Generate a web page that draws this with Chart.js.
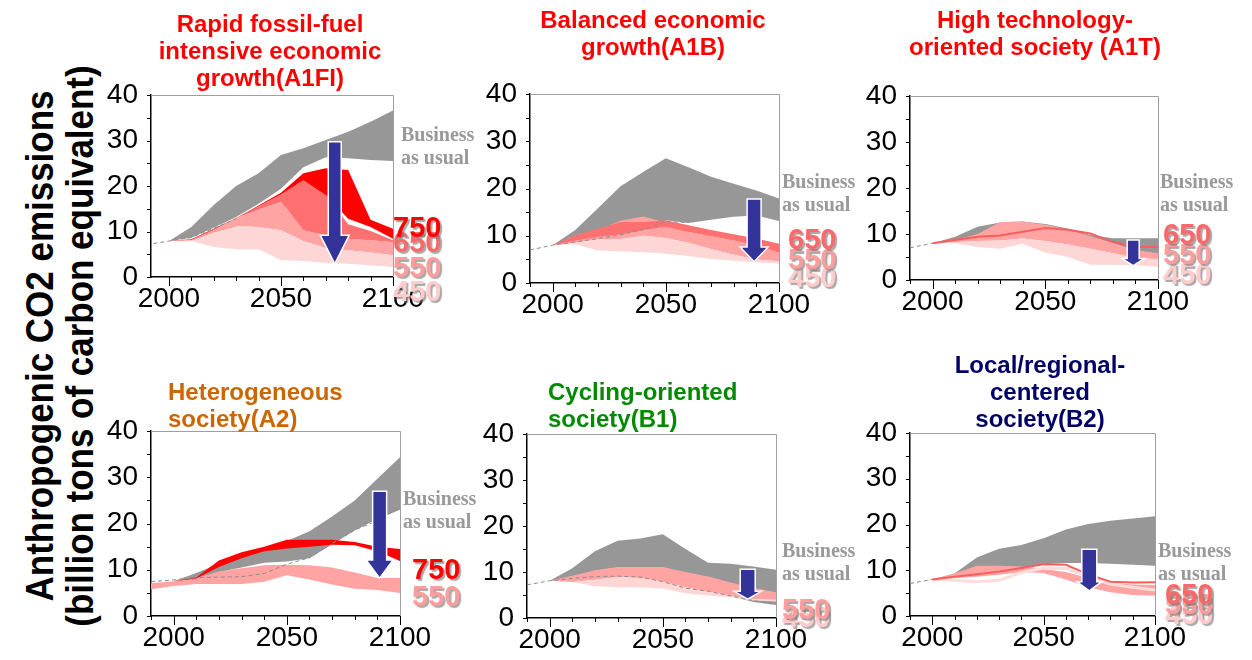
<!DOCTYPE html>
<html>
<head>
<meta charset="utf-8">
<script src="https://cdn.jsdelivr.net/npm/chart.js@4.4.0/dist/chart.umd.min.js"></script>
<style>
  body { margin: 0; background: #fff; }
  #wrap { position: relative; width: 1252px; height: 660px; overflow: hidden; font-family: Arial, "Liberation Sans", sans-serif; }
  canvas { position: absolute; }
  .t { position: absolute; font-weight: bold; font-size: 24px; line-height: 27px; white-space: nowrap; z-index: 2; }
  .c { text-align: center; transform: translateX(-50%); }
  .bau { position: absolute; font-family: "Liberation Serif", "Times New Roman", serif; font-weight: bold; font-size: 20px; line-height: 23px; color: #999; white-space: nowrap; }
  .num { position: absolute; font-weight: bold; font-size: 29px; line-height: 29px; text-shadow: 2px 2px 1px rgba(110,110,110,0.6); }
  #ytitle { position: absolute; left: -250px; top: 306px; width: 620px; height: 80px; text-align: center;
            font-weight: bold; font-size: 38px; line-height: 40px; transform: rotate(-90deg) scaleX(0.92); white-space: nowrap; }
</style>
</head>
<body>
<div id="wrap">
  <div id="ytitle">Anthropogenic CO2 emissions<br>(billion tons of carbon equivalent)</div>

  <div class="t c" style="left:270px; top:10px; color:#ff0000">Rapid fossil-fuel<br>intensive economic<br>growth(A1FI)</div>
  <div class="t c" style="left:653px; top:6px; color:#ff0000">Balanced economic<br>growth(A1B)</div>
  <div class="t c" style="left:1035px; top:6px; color:#ff0000">High technology-<br>oriented society (A1T)</div>
  <div class="t" style="left:168px; top:378px; color:#cc6600">Heterogeneous<br>society(A2)</div>
  <div class="t" style="left:548px; top:378px; color:#008a00">Cycling-oriented<br>society(B1)</div>
  <div class="t c" style="left:1040px; top:351px; color:#000066">Local/regional-<br>centered<br>society(B2)</div>
</div>
<script>
// years at ten-year steps
const YEARS = [1990, 2000, 2010, 2020, 2030, 2040, 2050, 2060, 2070, 2080, 2090, 2100];
const X_LABELS = [2000, 2050, 2100];
const Y_LABELS = [0, 10, 20, 30, 40];
const X_MINOR = [1990, 2000, 2010, 2020, 2030, 2040, 2050, 2060, 2070, 2080, 2090, 2100];
const Y_MINOR = [0, 5, 10, 15, 20, 25, 30, 35, 40];

// A1FI
const a1fiBauHi = [null, 7.9, 11.0, 15.8, 20.0, 22.8, 26.8, 28.3, 30.1, 31.9, 34.1, 36.6];
const a1fiBauLo = [null, 7.9, 8.6, 10.8, 13.2, 16.1, 19.4, 24.1, 26.3, 26.1, 25.7, 25.5];
const a1fi750Hi = [null, 7.9, 8.3, 10.6, 12.9, 15.7, 18.5, 22.8, 23.9, 23.5, 12.6, 10.6];
const a1fi750Lo = [null, 7.9, 8.1, 9.2, 11.0, 13.0, 15.0, 18.0, 18.0, 12.8, 11.0, 8.4];
const a1fi650Hi = [null, 7.9, 8.2, 10.6, 13.0, 15.6, 18.2, 21.3, 18.0, 11.6, 10.1, 8.1];
const a1fi550Hi = [null, 7.9, 8.2, 10.4, 13.1, 15.0, 16.7, 10.3, 9.2, 8.4, 8.1, 7.7];
const a1fi450Hi = [null, 7.9, 8.0, 9.9, 11.2, 11.0, 10.3, 7.9, 6.4, 5.9, 5.4, 4.8];
const a1fi450Lo = [null, 7.9, 7.9, 6.6, 6.1, 6.1, 3.7, 3.5, 3.1, 2.9, 2.6, 2.2];
const a1fiDash = [7.1, 7.9, 8.7, 10.7, 12.8];

// A1B
const a1bBauHi = [null, 8.0, 11.2, 15.8, 20.5, 23.5, 26.4, 24.5, 22.5, 21.0, 19.6, 17.9];
const a1bBauLo = [null, 8.0, 9.2, 9.8, 10.5, 11.5, 13.3, 12.7, 13.4, 14.0, 14.3, 13.1];
const a1b650Hi = [null, 8.0, 10.1, 11.5, 12.9, 12.9, 13.3, 12.2, 11.2, 10.3, 9.4, 8.3];
const a1b650Lo = [null, 8.0, 9.0, 9.8, 10.3, 11.2, 11.9, 10.8, 9.9, 9.0, 8.0, 6.4];
const a1b550Hi = [null, 8.0, 9.5, 11.2, 13.2, 14.1, 12.8, 10.8, 9.9, 9.0, 8.0, 6.4];
const a1b550Lo = [null, 8.0, 8.5, 9.2, 9.3, 10.0, 9.5, 8.5, 7.2, 6.0, 5.0, 4.6];
const a1b450Lo = [null, 8.0, 8.2, 6.9, 6.7, 6.5, 6.2, 5.7, 5.1, 4.7, 4.4, 4.2];
const a1bDash = [7.0, 8.0, 8.7, 9.4, 10.2, 11.3, 13.0, 12.8];

// A1T
const a1tBauHi = [null, 8.0, 9.4, 11.6, 12.5, 12.7, 12.2, 11.2, 9.8, 9.1, 9.1, 9.1];
const a1tBauLo = [null, 8.0, 8.3, 9.1, 9.8, 10.5, 11.2, 10.5, 9.4, 8.0, 6.2, 5.4];
const a1t650 = [null, 8.0, 8.7, 9.4, 9.7, 10.5, 11.3, 10.9, 10.1, 8.3, 7.2, 7.2];
const a1t550Hi = [null, 8.0, 8.7, 10.0, 12.6, 12.7, 12.0, 11.0, 9.5, 8.0, 6.5, 5.8];
const a1t550Lo = [null, 8.0, 8.2, 8.5, 8.6, 9.0, 8.5, 7.7, 6.8, 5.8, 4.8, 4.5];
const a1t450Lo = [null, 8.0, 8.0, 7.2, 6.8, 7.9, 6.0, 5.0, 3.3, 3.3, 3.2, 2.9];
const a1tDash = [7.0, 8.0];

// A2
const a2BauHi = [null, 7.5, 9.3, 11.3, 13.3, 14.8, 16.2, 18.3, 21.5, 25.0, 29.7, 34.3];
const a2BauLo = [null, 7.5, 8.0, 9.5, 10.5, 11.5, 11.8, 12.5, 15.5, 18.5, 21.0, 23.0];
const a2750Hi = [null, 7.5, 8.3, 12.0, 13.8, 15.0, 16.5, 16.5, 16.5, 16.0, 15.0, 14.5];
const a2750Lo = [null, 7.5, 8.1, 10.6, 12.5, 14.0, 14.6, 15.0, 15.4, 15.3, 14.0, 11.9];
const a2550Hi = [7.1, 7.5, 8.2, 9.6, 10.3, 11.0, 11.1, 11.0, 10.5, 9.4, 8.2, 8.2];
const a2550Lo = [5.8, 6.5, 6.9, 6.9, 6.9, 7.4, 8.8, 7.9, 6.8, 5.9, 5.6, 5.0];
const a2Dash = [7.4, 7.8, 8.3, 8.4, 8.5, 9.2, 11.2, 12.6, 15.7, 18.6, 20.6, 23.5];

// B1
const b1BauHi = [null, 8.1, 10.8, 14.5, 16.8, 17.3, 18.2, 15.0, 12.0, 11.8, 11.2, 10.5];
const b1BauLo = [null, 8.1, 8.6, 9.2, 9.5, 9.2, 8.5, 7.0, 6.0, 4.8, 3.5, 2.8];
const b1550Hi = [null, 8.1, 9.2, 10.4, 11.1, 11.1, 11.1, 10.0, 9.0, 7.7, 6.6, 5.6];
const b1550Lo = [null, 8.1, 7.8, 8.3, 8.9, 8.7, 7.9, 6.7, 5.7, 4.9, 4.2, 4.0];
const b1450Lo = [null, 8.1, 7.8, 6.9, 6.7, 6.7, 6.4, 5.4, 4.9, 4.5, 3.8, 3.6];
const b1Dash = [7.2, 8.1, 8.6, 9.0, 9.1, 8.9, 7.9, 6.5, 5.8, 4.8, 3.8, 3.0];

// B2
const b2BauHi = [null, 8.0, 9.3, 12.8, 14.7, 15.5, 17.0, 18.9, 20.1, 20.8, 21.3, 21.8];
const b2BauLo = [null, 8.0, 8.5, 9.0, 9.8, 10.5, 11.3, 11.6, 11.6, 11.4, 11.2, 11.0];
const b2650 = [null, 8.0, 8.6, 9.1, 9.7, 10.5, 11.3, 11.2, 9.1, 7.5, 7.3, 7.4];
const b2550Hi = [null, 8.0, 9.3, 11.0, 11.0, 10.8, 10.3, 9.6, 8.3, 7.2, 6.9, 6.8];
const b2550Lo = [null, 8.0, 8.3, 8.6, 9.0, 9.6, 9.4, 8.0, 6.3, 5.2, 4.6, 4.4];
const b2450 = [null, 8.0, 7.8, 7.5, 7.8, 9.5, 10.5, 10.4, 8.5, 7.0, 6.3, 5.7];
const b2Dash = [7.1, 8.0];

// reduction arrows: year, top of shaft, start of head, tip
const arrowYear = [2074, 2089, 2089, 2091, 2087.5, 2070.5];
const arrowTop = [29.7, 17.8, 8.7, 27.0, 10.6, 14.6];
const arrowNeck = [9.2, 7.6, 4.7, 12.1, 5.8, 7.5];
const arrowTip = [2.9, 4.5, 3.1, 8.2, 4.1, 5.5];

const BAU_TEXT = ['Business', 'as usual'];

const C = { bau: '#979797', c750: '#ff0000', c650: '#ff7070', c550: '#ffa3a3', c450: '#ffd6d6' };
const NUM_COLOR = { '750': '#ff0000', '650': '#ff6868', '550': '#ff9d9d', '450': '#ffcccc' };

const panels = [
  { plot: [151, 95, 393, 277], xMin: 1992,
    bands: [[a1fi450Hi, a1fi450Lo, C.c450], [a1fi650Hi, a1fi550Hi, C.c650], [a1fi550Hi, a1fi450Hi, C.c550],
            [a1fi750Hi, a1fi750Lo, C.c750], [a1fiBauHi, a1fiBauLo, C.bau]],
    lines: [[a1fiDash, 'dash']], arrowSize: [13, 29],
    bau: [401, 123], nums: [['450', 393, 277], ['550', 393, 253], ['650', 393, 228], ['750', 393, 213]] },
  { plot: [530, 94, 779, 283], xMin: 1990,
    bands: [[a1b550Lo, a1b450Lo, C.c450], [a1b650Hi, a1b650Lo, C.c650], [a1b550Hi, a1b550Lo, C.c550], [a1bBauHi, a1bBauLo, C.bau]],
    lines: [[a1bDash, 'dash']], arrowSize: [14, 28],
    bau: [782, 170], nums: [['450', 788, 263], ['550', 788, 245], ['650', 788, 225]] },
  { plot: [910, 96, 1158, 280], xMin: 1990,
    bands: [[a1t550Lo, a1t450Lo, C.c450], [a1t550Hi, a1t550Lo, C.c550], [a1tBauHi, a1tBauLo, C.bau]],
    lines: [[a1tDash, 'dash'], [a1t650, 'red']], arrowSize: [12, 23],
    bau: [1160, 170], nums: [['450', 1163, 260], ['550', 1163, 240], ['650', 1163, 220]] },
  { plot: [151, 431, 400, 616], xMin: 1990,
    bands: [[a2750Hi, a2750Lo, C.c750], [a2550Hi, a2550Lo, C.c550], [a2BauHi, a2BauLo, C.bau]],
    lines: [[a2Dash, 'dash']], arrowSize: [14, 27],
    bau: [403, 487], nums: [['550', 412, 582], ['750', 412, 555]] },
  { plot: [527, 434, 776, 618], xMin: 1990,
    bands: [[b1550Lo, b1450Lo, C.c450], [b1550Hi, b1550Lo, C.c550], [b1BauHi, b1BauLo, C.bau]],
    lines: [[b1Dash, 'dash']], arrowSize: [15, 27],
    bau: [782, 539], nums: [['450', 782, 603], ['550', 782, 595]] },
  { plot: [910, 433, 1155, 616], xMin: 1990,
    bands: [[b2550Hi, b2550Lo, C.c550], [b2BauHi, b2BauLo, C.bau]],
    lines: [[b2Dash, 'dash'], [b2650, 'red'], [b2450, 'pale']], arrowSize: [15, 25],
    bau: [1158, 539], nums: [['450', 1165, 600], ['550', 1165, 590], ['650', 1165, 580]] }
];

const TICK_FONT = { family: 'Arial, "Liberation Sans", sans-serif', size: 28 };
const PAD_L = 70, PAD_T = 40, PAD_R = 45, PAD_B = 50;

function pts(arr) {
  return YEARS.map((yr, i) => ({ x: yr, y: arr[i] })).filter(p => p.y != null && p.y !== undefined);
}

const frame = {
  id: 'frame',
  afterDraw(chart) {
    const { ctx, chartArea: a, scales: { x, y } } = chart;
    ctx.save();
    ctx.strokeStyle = '#a0a0a0';
    ctx.lineWidth = 1;
    ctx.beginPath();
    ctx.moveTo(a.left, a.top + 0.5);
    ctx.lineTo(a.right + 0.5, a.top + 0.5);
    ctx.lineTo(a.right + 0.5, a.bottom);
    ctx.stroke();
    ctx.strokeStyle = '#000';
    ctx.beginPath();
    Y_MINOR.forEach(v => {
      const py = Math.round(y.getPixelForValue(v)) + 0.5;
      ctx.moveTo(a.left - 4, py); ctx.lineTo(a.left, py);
    });
    X_MINOR.forEach(v => {
      if (v < x.min) return;
      const px = Math.round(x.getPixelForValue(v)) + 0.5;
      const len = X_LABELS.includes(v) ? 9 : 4;
      ctx.moveTo(px, a.bottom); ctx.lineTo(px, a.bottom + len);
    });
    ctx.stroke();
    ctx.restore();
  }
};

const arrow = {
  id: 'arrow',
  afterDatasetsDraw(chart, args, o) {
    const { ctx, scales: { x, y } } = chart;
    const px = x.getPixelForValue(o.year);
    const yTop = y.getPixelForValue(o.top), yNeck = y.getPixelForValue(o.neck), yTip = y.getPixelForValue(o.tip);
    const s = o.shaft / 2, h = o.head / 2;
    ctx.save();
    ctx.beginPath();
    ctx.moveTo(px - s, yTop); ctx.lineTo(px + s, yTop); ctx.lineTo(px + s, yNeck);
    ctx.lineTo(px + h, yNeck); ctx.lineTo(px, yTip); ctx.lineTo(px - h, yNeck);
    ctx.lineTo(px - s, yNeck); ctx.closePath();
    ctx.fillStyle = '#333399';
    ctx.fill();
    ctx.strokeStyle = '#ffffff';
    ctx.lineWidth = 1.5;
    ctx.stroke();
    ctx.restore();
  }
};

const wrap = document.getElementById('wrap');

panels.forEach((p, k) => {
  const [L, T, R, B] = p.plot;
  const cv = document.createElement('canvas');
  const w = R - L + PAD_L + PAD_R, h = B - T + PAD_T + PAD_B;
  cv.width = w; cv.height = h;
  cv.style.left = (L - PAD_L) + 'px';
  cv.style.top = (T - PAD_T) + 'px';
  cv.style.width = w + 'px';
  cv.style.height = h + 'px';
  wrap.appendChild(cv);

  const datasets = [];
  p.lines.forEach(([arr, kind]) => {
    const st = kind === 'dash' ? { borderColor: '#8c8c8c', borderWidth: 1, borderDash: [4, 3] }
             : kind === 'red' ? { borderColor: '#ff5c5c', borderWidth: 2 }
             : { borderColor: '#ffdcdc', borderWidth: 3 };
    datasets.push(Object.assign({ data: pts(arr), fill: false, pointRadius: 0 }, st));
  });
  p.bands.forEach(([hi, lo, col]) => {
    datasets.push({ data: pts(hi), fill: '+1', backgroundColor: col, borderWidth: 0, pointRadius: 0 });
    datasets.push({ data: pts(lo), fill: false, borderWidth: 0, pointRadius: 0 });
  });

  new Chart(cv, {
    type: 'line',
    data: { datasets },
    options: {
      responsive: false,
      animation: false,
      devicePixelRatio: 1,
      layout: { padding: { left: 0, top: PAD_T, right: PAD_R, bottom: 0 } },
      elements: { line: { tension: 0 } },
      plugins: {
        legend: { display: false },
        tooltip: { enabled: false },
        arrow: { year: arrowYear[k], top: arrowTop[k], neck: arrowNeck[k], tip: arrowTip[k],
                 shaft: p.arrowSize[0], head: p.arrowSize[1] }
      },
      scales: {
        x: {
          type: 'linear', min: p.xMin, max: 2100,
          grid: { display: false, drawTicks: false },
          border: { display: true, color: '#000', width: 1.5 },
          ticks: { font: TICK_FONT, color: '#000', padding: 5, autoSkip: false, maxRotation: 0, callback: v => String(v) },
          afterBuildTicks: s => { s.ticks = X_LABELS.map(v => ({ value: v })); },
          afterFit: s => { s.height = PAD_B; }
        },
        y: {
          min: 0, max: 40,
          grid: { display: false, drawTicks: false },
          border: { display: true, color: '#000', width: 1.5 },
          ticks: { font: TICK_FONT, color: '#000', padding: 13, callback: v => String(v) },
          afterBuildTicks: s => { s.ticks = Y_LABELS.map(v => ({ value: v })); },
          afterFit: s => { s.width = PAD_L; }
        }
      }
    },
    plugins: [frame, arrow]
  });

  const b = document.createElement('div');
  b.className = 'bau';
  b.style.left = p.bau[0] + 'px';
  b.style.top = p.bau[1] + 'px';
  b.innerHTML = BAU_TEXT.join('<br>');
  wrap.appendChild(b);

  p.nums.forEach(([txt, nx, ny]) => {
    const d = document.createElement('div');
    d.className = 'num';
    d.style.left = nx + 'px';
    d.style.top = ny + 'px';
    d.style.color = NUM_COLOR[txt];
    d.textContent = txt;
    wrap.appendChild(d);
  });
});
</script>
</body>
</html>
